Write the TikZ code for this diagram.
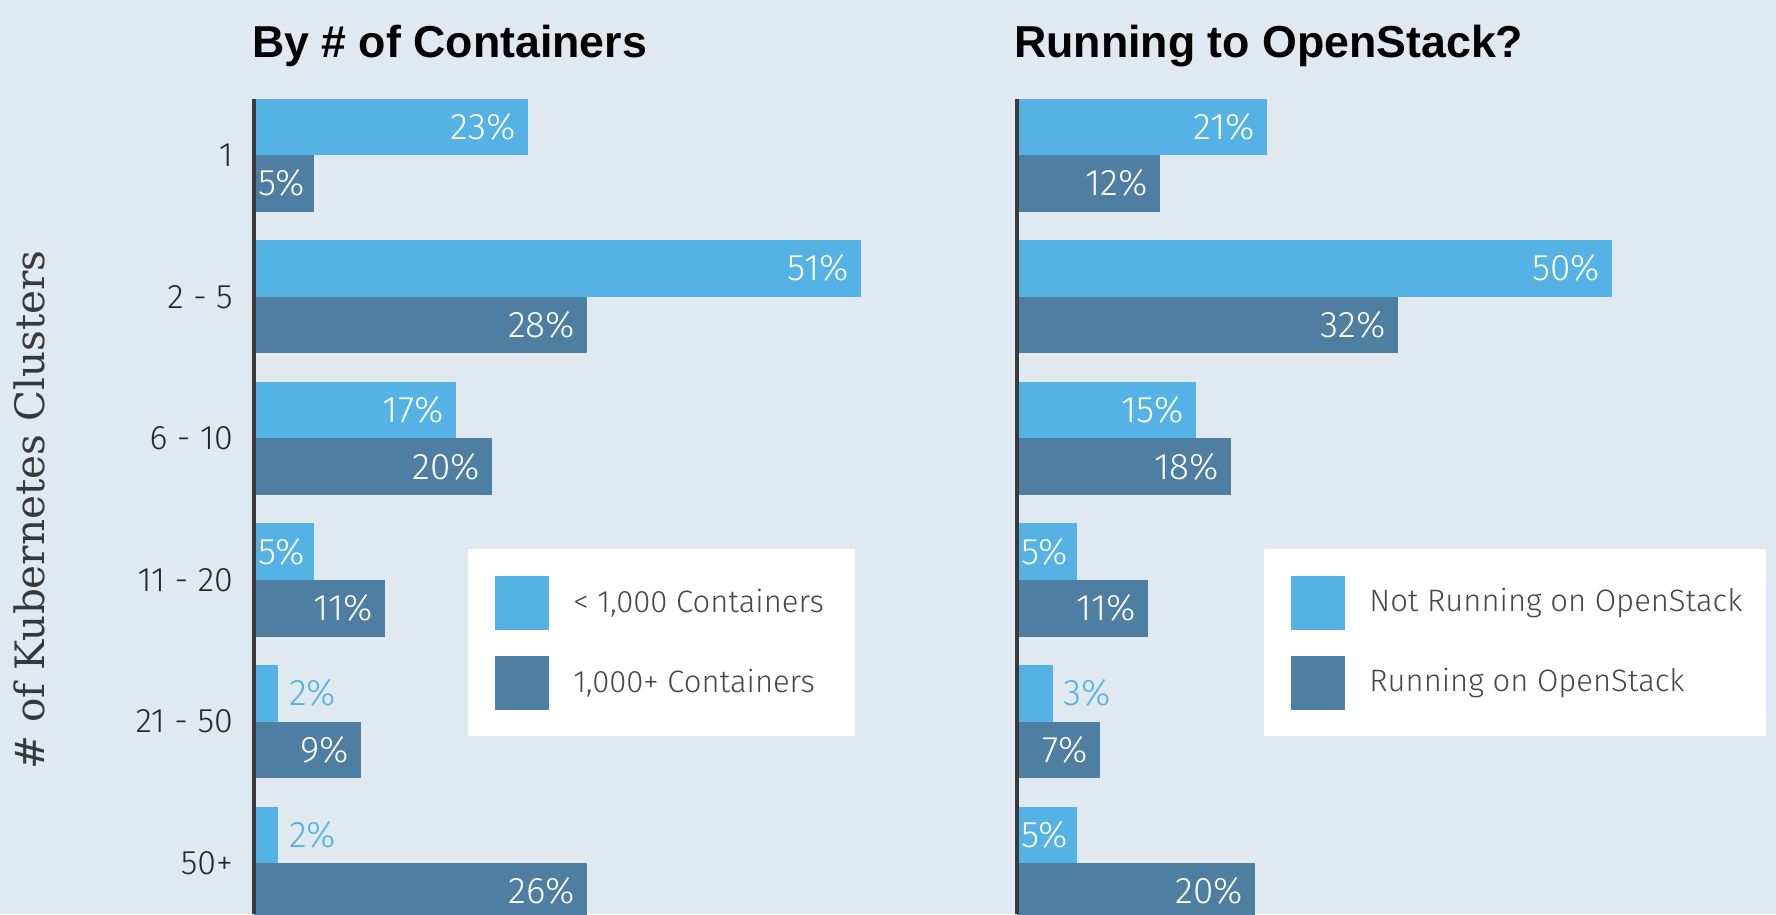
\documentclass[tikz,border=0pt]{standalone}
\usepackage{fontspec}
\IfFontExistsTF{Fira Sans Light}{\setmainfont{Fira Sans Light}}{\setmainfont{Fira Sans}}
\newfontfamily\titlefont{Liberation Sans}
\newfontfamily\slabfont{DejaVu Serif}
\usetikzlibrary{positioning}
\definecolor{bgcol}{HTML}{E0E8F0}
\definecolor{lightbar}{HTML}{55B2E4}
\definecolor{darkbar}{HTML}{4E7EA2}
\definecolor{axiscol}{HTML}{3A3A3A}
\definecolor{legtext}{HTML}{474747}
\newcommand{\pctw}{11.9}
% name, axis x, bar top, bar length, value, colour
\newcommand{\pctbar}[6]{%
  \fill[#6] (#2,#3) rectangle ++({#4*\pctw},56.6);
  \ifnum#5<5
    \node[pctout] (#1) at ({#2+#4*\pctw+11},{#3+28.3}) {#5\%};
  \else\ifnum#5<6
    \node[pctin,anchor=west] (#1) at ({#2+4},{#3+28.3}) {#5\%};
  \else
    \node[pctin] (#1) at ({#2+#4*\pctw-12},{#3+28.3}) {#5\%};
  \fi\fi}

\begin{document}
\begin{tikzpicture}[x=1pt,y=-1pt,
    pctin/.style={anchor=east,inner sep=0pt,text=white,font=\fontsize{37}{40}\selectfont},
    pctout/.style={anchor=west,inner sep=0pt,text=lightbar,font=\fontsize{37}{40}\selectfont},
    catlabel/.style={anchor=east,inner sep=0pt,text=black!85,font=\fontsize{34}{38}\selectfont},
    titletext/.style={anchor=base west,inner sep=0pt,font=\titlefont\bfseries\fontsize{44.7}{48}\selectfont},
    swatch/.style={minimum width=54pt,minimum height=54pt,inner sep=0pt},
    legentry/.style={anchor=west,inner sep=0pt,text=legtext,font=\fontsize{31}{34}\selectfont},
    axisline/.style={axiscol,line width=3.5pt}]
  \useasboundingbox (0,0) rectangle (1776,914);
  \fill[bgcol] (0,0) rectangle (1776,914);
  \clip (0,0) rectangle (1776,914);

  \node[titletext] (ltitle) at (252,57) {By \# of Containers};
  \node[titletext] (rtitle) at (1014,57) {Running to OpenStack?};
  \node[rotate=90,inner sep=0pt,text=black!78,font=\slabfont\fontsize{40.5}{44}\selectfont] (ylabel) at (29,510) {\# of Kubernetes Clusters};

  \foreach \cat/\la/\da/\dlen/\lb/\db [count=\i from 0] in
      {1/23/5/5/21/12, 2 - 5/51/28/28/50/32, 6 - 10/17/20/20/15/18,
       11 - 20/5/11/11/5/11, 21 - 50/2/9/9/3/7, 50+/2/26/28/5/20}{
    \pgfmathsetmacro\ytop{98.5+141.6*\i}
    \pctbar{la\i}{254}{\ytop}{\la}{\la}{lightbar}
    \pctbar{da\i}{254}{\ytop+56.6}{\dlen}{\da}{darkbar}
    \pctbar{lb\i}{1017}{\ytop}{\lb}{\lb}{lightbar}
    \pctbar{db\i}{1017}{\ytop+56.6}{\db}{\db}{darkbar}
    \node[catlabel] (cat\i) at (233,\ytop+56.6) {\cat};
  }

  \coordinate (laxtop) at (254,98.5);
  \coordinate (laxbot) at (254,914);
  \coordinate (raxtop) at (1017,98.5);
  \coordinate (raxbot) at (1017,914);
  \draw[axisline] (laxtop) -- (laxbot);
  \draw[axisline] (raxtop) -- (raxbot);

  \fill[white] (468,549) rectangle (855,736);
  \node[swatch,fill=lightbar] (lsw1) at (522,603) {};
  \node[swatch,fill=darkbar] (lsw2) at (522,683) {};
  \node[legentry,right=24pt of lsw1] (lent1) {< 1,000 Containers};
  \node[legentry,right=24pt of lsw2] (lent2) {1,000+ Containers};

  \fill[white] (1264,549) rectangle (1766,736);
  \node[swatch,fill=lightbar] (rsw1) at (1318,603) {};
  \node[swatch,fill=darkbar] (rsw2) at (1318,683) {};
  \node[legentry,right=24pt of rsw1] (rent1) {Not Running on OpenStack};
  \node[legentry,right=24pt of rsw2] (rent2) {Running on OpenStack};
\end{tikzpicture}
\end{document}
